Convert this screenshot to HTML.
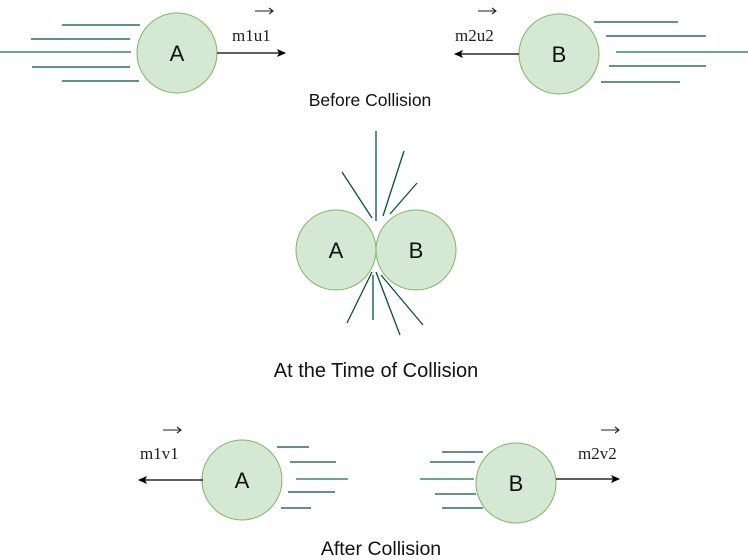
<!DOCTYPE html>
<html><head><style>
html,body{margin:0;padding:0;background:#fff;width:748px;height:560px;overflow:hidden}
svg{display:block}
.s{font-family:"Liberation Sans",sans-serif;fill:#111}
.r{font-family:"Liberation Serif",serif;fill:#222;font-size:17px}
</style></head><body>
<svg width="748" height="560" viewBox="0 0 748 560" xmlns="http://www.w3.org/2000/svg">
<defs><marker id="ah" markerWidth="10" markerHeight="10" refX="8" refY="5" orient="auto" markerUnits="userSpaceOnUse"><path d="M0,1 L9,5 L0,9 L2,5 Z" fill="#000"/></marker></defs>
<g stroke="#0a5234" stroke-width="1.3">
<line x1="62" y1="25" x2="140" y2="25"/><line x1="31" y1="39" x2="130" y2="39"/>
<line x1="32" y1="67" x2="130" y2="67"/><line x1="62" y1="81" x2="139" y2="81"/>
<line x1="594" y1="22" x2="678" y2="22"/><line x1="606" y1="36" x2="706" y2="36"/>
<line x1="609" y1="66" x2="706" y2="66"/><line x1="601" y1="82" x2="680" y2="82"/>
<line x1="376" y1="131" x2="376" y2="221"/><line x1="342" y1="172" x2="372" y2="218"/>
<line x1="404" y1="151" x2="383" y2="216"/><line x1="417" y1="183" x2="390" y2="214"/>
<line x1="372" y1="272" x2="347" y2="323"/><line x1="373" y1="275" x2="373" y2="320"/>
<line x1="376" y1="272" x2="400" y2="335"/><line x1="381" y1="275" x2="423" y2="325"/>
<line x1="277" y1="447" x2="309" y2="447"/><line x1="290" y1="462" x2="336" y2="462"/>
<line x1="288" y1="492" x2="335" y2="492"/><line x1="281" y1="508" x2="311" y2="508"/>
<line x1="442" y1="452" x2="483" y2="452"/><line x1="430" y1="462" x2="475" y2="462"/>
<line x1="435" y1="494" x2="476" y2="494"/><line x1="442" y1="508" x2="483" y2="508"/>
</g>
<g stroke="#6aa886" stroke-width="2">
<line x1="0" y1="52" x2="131" y2="52"/><line x1="616" y1="52" x2="748" y2="52"/>
<line x1="296" y1="479" x2="348" y2="479"/><line x1="420" y1="479" x2="474" y2="479"/>
</g>
<g fill="#d5e8d4" stroke="#82b366" stroke-width="1">
<circle cx="177" cy="53" r="40"/><circle cx="559" cy="54" r="40"/>
<circle cx="336" cy="250" r="40"/><circle cx="416" cy="250" r="40"/>
<circle cx="242" cy="480" r="40"/><circle cx="516" cy="483" r="40"/>
</g>
<g stroke="#000" stroke-width="1.3" marker-end="url(#ah)">
<line x1="217" y1="53" x2="285" y2="53"/><line x1="519" y1="54" x2="455" y2="54"/>
<line x1="203" y1="480" x2="139" y2="480"/><line x1="556" y1="479" x2="619" y2="479"/>
</g>
<g class="s" font-size="22" text-anchor="middle">
<text x="177" y="61">A</text><text x="559" y="62">B</text>
<text x="336" y="258">A</text><text x="416" y="258">B</text>
<text x="242" y="488">A</text><text x="516" y="491">B</text>
</g>
<g class="s" text-anchor="middle">
<text x="370" y="106" font-size="17.5">Before Collision</text>
<text x="376" y="377" font-size="20">At the Time of Collision</text>
<text x="381" y="555" font-size="19.5">After Collision</text>
</g>
<g class="r">
<text x="232" y="41">m1u1</text><text x="455" y="41">m2u2</text>
<text x="140" y="459">m1v1</text><text x="578" y="459">m2v2</text>
</g>
<g stroke="#222" stroke-width="1.1" fill="none">
<path d="M255,11 H273 M269,8 L273,11 L269,14"/>
<path d="M478,11 H496 M492,8 L496,11 L492,14"/>
<path d="M163,430 H181 M177,427 L181,430 L177,433"/>
<path d="M601,430 H619 M615,427 L619,430 L615,433"/>
</g>
</svg>
</body></html>
